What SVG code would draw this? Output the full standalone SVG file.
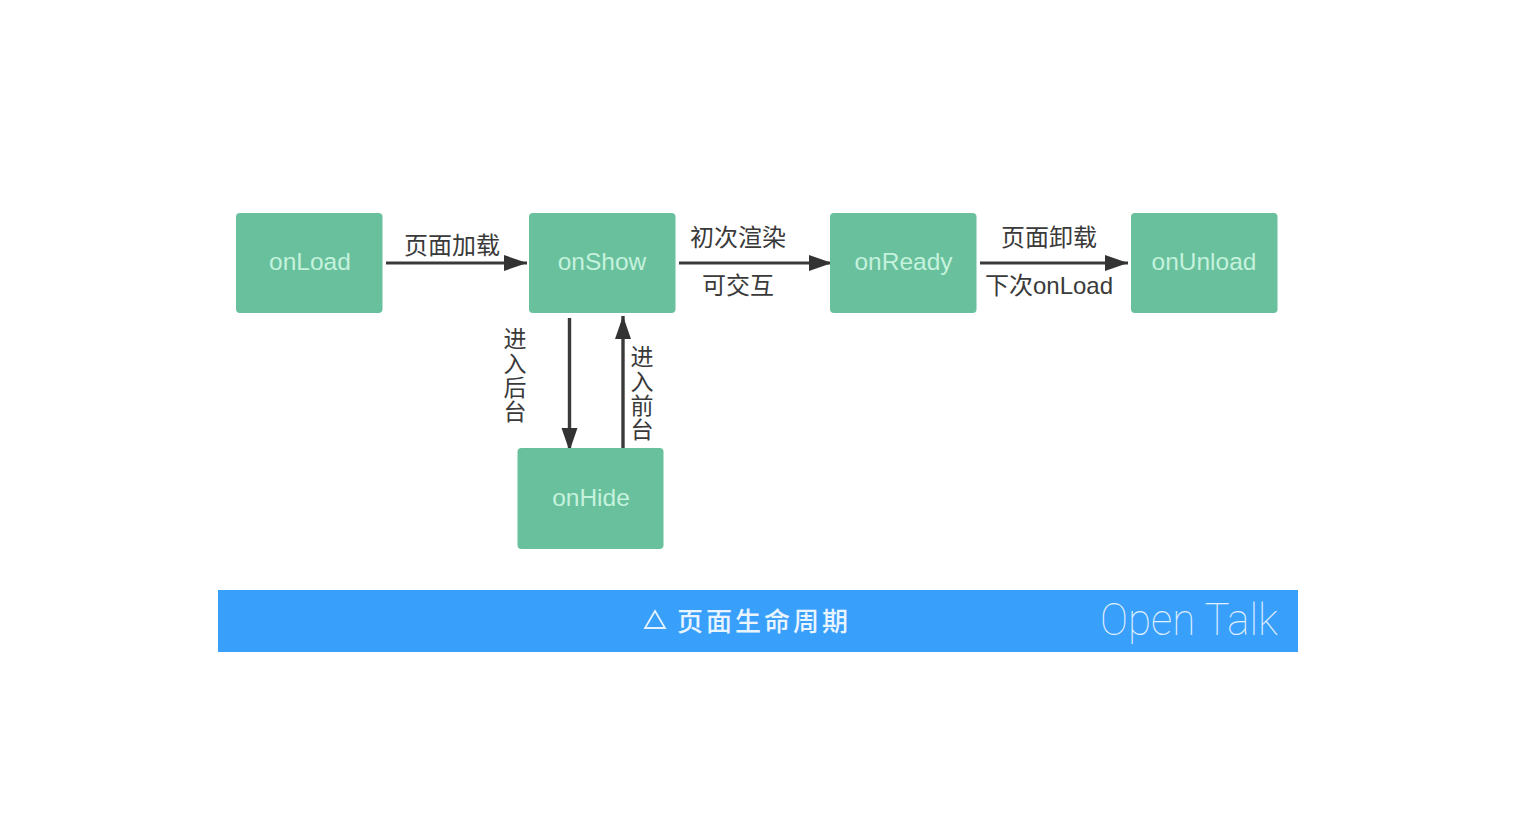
<svg xmlns="http://www.w3.org/2000/svg" width="1516" height="826" viewBox="0 0 1516 826">
<style>
.n{fill:#68c09c}
.nt{font:24.500px "Liberation Sans","Noto Sans CJK SC",sans-serif;fill:#c5f2dd;text-anchor:middle}
.l{font:24px "Noto Sans CJK SC","Liberation Sans",sans-serif;fill:#3a3a3a;text-anchor:middle}
.vt{font:23px "Noto Sans CJK SC",sans-serif;fill:#3a3a3a;writing-mode:vertical-rl;letter-spacing:1.300px}
.c{stroke:#3a3a3a;stroke-width:3;fill:none;marker-end:url(#a)}
.v{stroke-width:3.400}
</style>
<defs><marker id="a" markerUnits="userSpaceOnUse" markerWidth="24" markerHeight="18" refX="23" refY="9" orient="auto"><path d="M0 1L23 9L0 17Z" fill="#333"/></marker></defs>
<rect width="1516" height="826" fill="#fff"/>
<g id="connectors">
<path class="c" d="M386 263H527"/>
<path class="c" d="M679 263H832"/>
<path class="c" d="M980 263H1128"/>
<path class="c v" d="M569.500 318V451"/>
<path class="c v" d="M623 449V316"/>
</g>
<g id="onLoad"><rect class="n" x="236" y="213" width="146.500" height="100" rx="4"/><text class="nt" x="310" y="270">onLoad</text></g>
<g id="onShow"><rect class="n" x="529" y="213" width="146.500" height="100" rx="4"/><text class="nt" x="602" y="270">onShow</text></g>
<g id="onReady"><rect class="n" x="830" y="213" width="146.500" height="100" rx="4"/><text class="nt" x="903.500" y="270">onReady</text></g>
<g id="onUnload"><rect class="n" x="1131" y="213" width="146.500" height="100" rx="4"/><text class="nt" x="1204" y="270">onUnload</text></g>
<g id="onHide"><rect class="n" x="517.500" y="448" width="146" height="101" rx="4"/><text class="nt" x="591" y="506">onHide</text></g>
<g id="labels">
<text class="l" x="452" y="254">页面加载</text>
<text class="l" x="738" y="246">初次渲染</text>
<text class="l" x="738" y="294">可交互</text>
<text class="l" x="1049" y="246">页面卸载</text>
<text class="l" x="1049" y="294">下次<tspan font-family="Liberation Sans">onLoad</tspan></text>
<text class="vt" x="515" y="327">进入后台</text>
<text class="vt" x="642" y="345">进入前台</text>
</g>
<g id="banner">
<rect x="218" y="590" width="1080" height="62" fill="#389ffb"/>
<path d="M655 611L665 628H645Z" fill="none" stroke="#e4f3ff" stroke-width="1.800"/>
<text x="764" y="631" font-family="Noto Sans CJK SC,sans-serif" font-size="26" font-weight="500" fill="#e8f4ff" text-anchor="middle" letter-spacing="3">页面生命周期</text>
<text x="1100" y="635" font-family="Roboto,sans-serif" font-size="44" font-weight="100" fill="#e0f0ff" textLength="178" lengthAdjust="spacingAndGlyphs">Open Talk</text>
</g>
</svg>
